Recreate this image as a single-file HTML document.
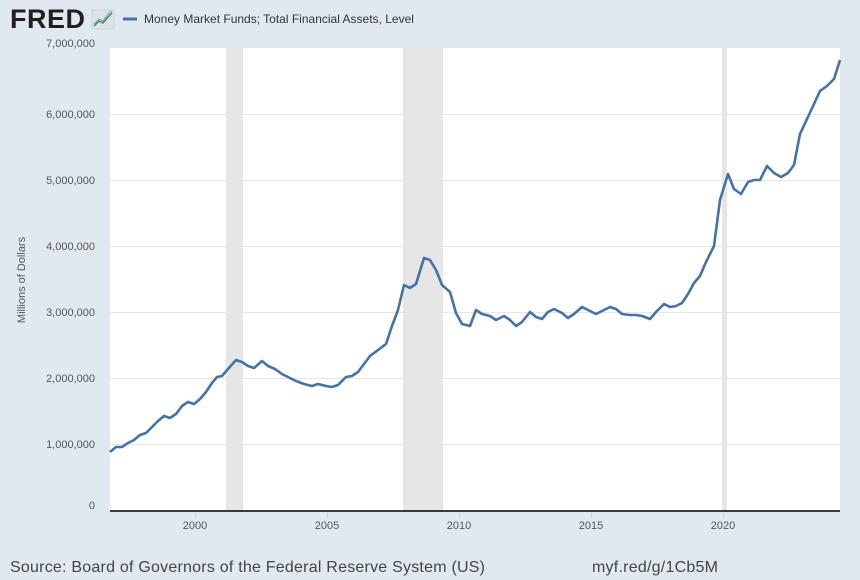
<!DOCTYPE html>
<html><head><meta charset="utf-8"><style>
body{margin:0;background:#e1e9f0;}
</style></head><body>
<svg width="860" height="580" xmlns="http://www.w3.org/2000/svg" style="display:block;font-family:'Liberation Sans',sans-serif">
<rect width="860" height="580" fill="#e1e9f0"/>
<text x="10" y="28" font-size="27" font-weight="bold" fill="#231f20" letter-spacing="-1" textLength="74">FRED</text>
<rect x="92" y="10" width="22" height="19" fill="#dde3e8" stroke="#b8c2cb" stroke-width="0.5"/>
<polyline points="94,26 99,21 103,23 108,17 112,13" fill="none" stroke="#4a8a3c" stroke-width="1.5"/>
<polyline points="94,24 99,19 103,21 108,14 112,11" fill="none" stroke="#6aa0d0" stroke-width="1"/>
<line x1="123" y1="19" x2="137" y2="19" stroke="#4572a7" stroke-width="3"/>
<text x="144" y="23" font-size="12" fill="#333">Money Market Funds; Total Financial Assets, Level</text>
<rect x="110" y="48" width="730" height="463" fill="#fff"/>
<rect x="226" y="48" width="17" height="463" fill="#e6e6e6"/>
<rect x="403" y="48" width="40" height="463" fill="#e6e6e6"/>
<rect x="722" y="48" width="5" height="463" fill="#e6e6e6"/>
<g stroke="#e6e6e6" stroke-width="1">
<line x1="110" x2="840" y1="114.5" y2="114.5"/><line x1="110" x2="840" y1="180.5" y2="180.5"/>
<line x1="110" x2="840" y1="246.5" y2="246.5"/><line x1="110" x2="840" y1="312.5" y2="312.5"/>
<line x1="110" x2="840" y1="378.5" y2="378.5"/><line x1="110" x2="840" y1="444.5" y2="444.5"/>
</g>
<line x1="110" x2="840" y1="511" y2="511" stroke="#000" stroke-width="1.5"/>
<g stroke="#ccd6eb"><line x1="195.5" x2="195.5" y1="512" y2="518"/><line x1="327.5" x2="327.5" y1="512" y2="518"/><line x1="459.5" x2="459.5" y1="512" y2="518"/><line x1="591.5" x2="591.5" y1="512" y2="518"/><line x1="723.5" x2="723.5" y1="512" y2="518"/></g>
<g font-size="11" fill="#555" text-anchor="middle">
<text x="195" y="529">2000</text><text x="327" y="529">2005</text><text x="459" y="529">2010</text><text x="591" y="529">2015</text><text x="723" y="529">2020</text>
</g>
<g font-size="11" fill="#555" text-anchor="end">
<text x="95" y="47">7,000,000</text><text x="95" y="118">6,000,000</text><text x="95" y="184">5,000,000</text>
<text x="95" y="250">4,000,000</text><text x="95" y="316">3,000,000</text><text x="95" y="382">2,000,000</text>
<text x="95" y="448">1,000,000</text><text x="95" y="509">0</text>
</g>
<text transform="translate(25,280) rotate(-90)" font-size="11" fill="#555" text-anchor="middle">Millions of Dollars</text>
<polyline fill="none" stroke="#4572a7" stroke-width="2.6" stroke-linejoin="round" points="110,452 116,447 122,447 128,443 134,440 140,435 146,433 152,427 158,421 164,416 170,418 176,414 182,406 188,402 194,404 200,399 206,392 212,383 217,377 222,376 228,369 236,360 242,362 248,366 254,368 262,361 268,366 275,369 282,374 288,377 296,381 304,384 312,386 318,384 326,386 332,387 338,385 346,377 352,376 358,372 364,364 370,356 378,350 386,344 392,326 398,310 404,285 410,288 416,284 424,258 430,260 436,270 442,285 450,292 456,313 462,324 470,326 476,310 482,314 490,316 496,320 504,316 510,320 516,326 522,322 530,312 536,317 542,319 548,312 554,309 562,313 568,318 574,314 582,307 590,311 596,314 602,311 610,307 616,309 622,314 630,315 636,315 642,316 650,319 656,312 664,304 670,307 676,306 682,303 688,294 694,283 700,276 706,262 714,246 720,200 728,174 734,189 741,194 748,182 754,180 760,180 767,166 774,173 781,177 788,173 794,165 800,134 807,119 814,104 820,91 827,86 834,79 840,60"/>
<text x="10" y="572" font-size="16" fill="#444" textLength="475">Source: Board of Governors of the Federal Reserve System (US)</text>
<text x="592" y="572" font-size="16" fill="#444" textLength="126">myf.red/g/1Cb5M</text>
</svg>
</body></html>
